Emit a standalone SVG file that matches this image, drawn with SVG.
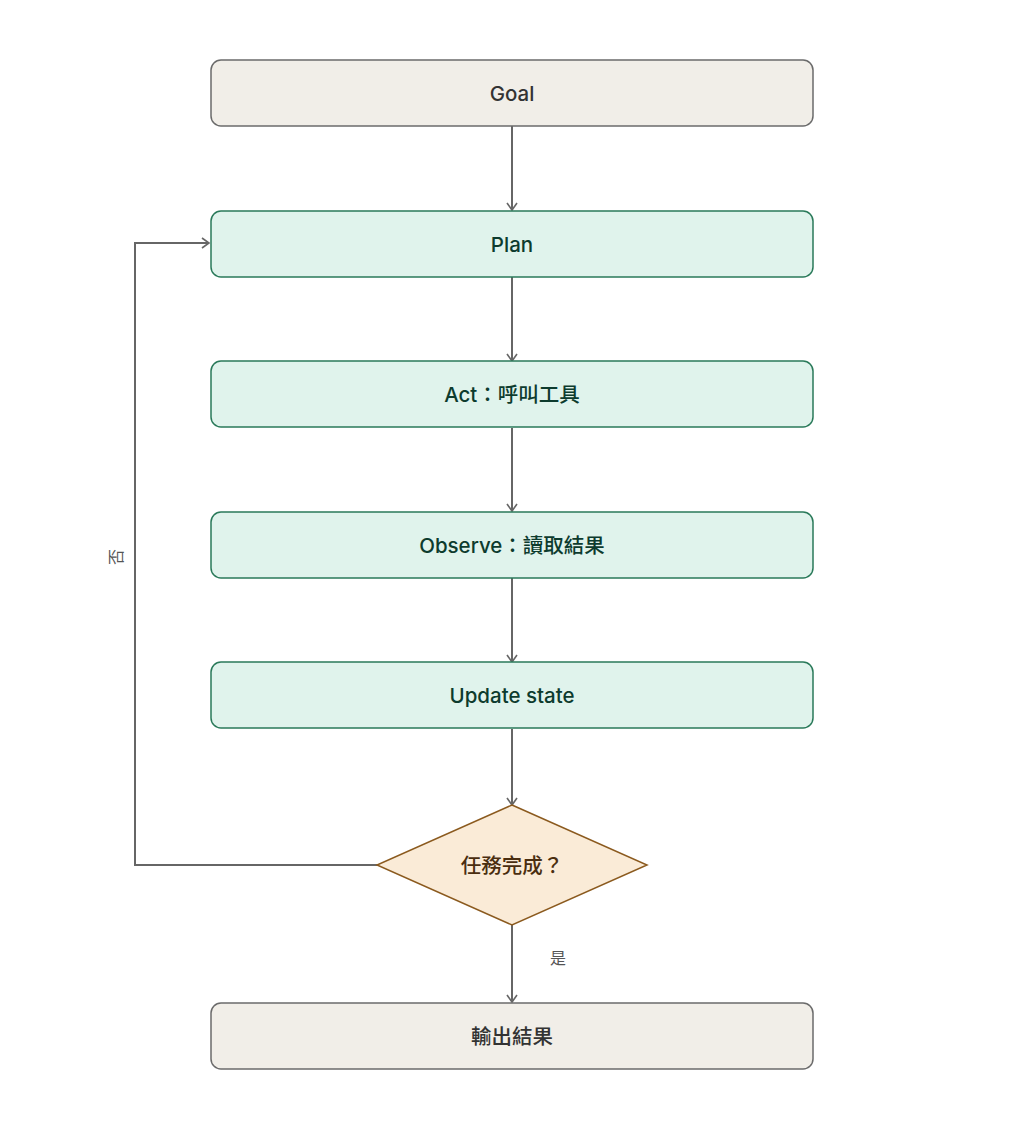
<svg xmlns="http://www.w3.org/2000/svg" width="1024" height="1129" viewBox="0 0 1024 1129">
<defs>
<marker id="arr" markerWidth="12" markerHeight="12" refX="10" refY="6" orient="auto" markerUnits="userSpaceOnUse">
<path d="M3,1 L10,6 L3,11" fill="none" stroke="#666" stroke-width="1.6"/>
</marker>
<style>
.neutral{fill:#f1eee8;stroke:#6b6b6b;stroke-width:1.5}
.step{fill:#e0f3ec;stroke:#2a7a5a;stroke-width:1.5}
.dec{fill:#faebd7;stroke:#8b5a1e;stroke-width:1.5}
.t{font-family:"Inter","Noto Sans CJK TC",sans-serif;font-size:20.5px;font-weight:500;text-anchor:middle;dominant-baseline:central}
.tn{fill:#333}
.tg{fill:#0d3b2e}
.td{fill:#4a2e10}
.edge{fill:none;stroke:#666;stroke-width:2;marker-end:url(#arr)}
.lbl{font-family:"Noto Sans CJK TC",sans-serif;font-size:16px;fill:#555;text-anchor:middle;dominant-baseline:central}
</style>
</defs>
<rect width="1024" height="1129" fill="#fff"/>
<g id="connectors">
<path class="edge" d="M512,126 V210"/>
<path class="edge" d="M512,277 V361"/>
<path class="edge" d="M512,428 V511"/>
<path class="edge" d="M512,578 V662"/>
<path class="edge" d="M512,729 V805"/>
<path class="edge" d="M512,925 V1002"/>
<path class="edge" d="M377,865 H135 V243 H209"/>
<text class="lbl" x="115" y="557" transform="rotate(-90 115 557)">否</text>
<text class="lbl" x="558" y="957">是</text>
</g>
<g id="goal"><rect class="neutral" x="211" y="60" width="602" height="66" rx="10"/><text class="t tn" x="512" y="93">Goal</text></g>
<g id="plan"><rect class="step" x="211" y="211" width="602" height="66" rx="10"/><text class="t tg" x="512" y="244">Plan</text></g>
<g id="act"><rect class="step" x="211" y="361" width="602" height="66" rx="10"/><text class="t tg" x="512" y="394">Act：呼叫工具</text></g>
<g id="observe"><rect class="step" x="211" y="512" width="602" height="66" rx="10"/><text class="t tg" x="512" y="545">Observe：讀取結果</text></g>
<g id="update"><rect class="step" x="211" y="662" width="602" height="66" rx="10"/><text class="t tg" x="512" y="695">Update state</text></g>
<g id="decision"><polygon class="dec" points="512,805 647,865 512,925 377,865"/><text class="t td" x="512" y="865">任務完成？</text></g>
<g id="output"><rect class="neutral" x="211" y="1003" width="602" height="66" rx="10"/><text class="t tn" x="512" y="1036">輸出結果</text></g>
</svg>
